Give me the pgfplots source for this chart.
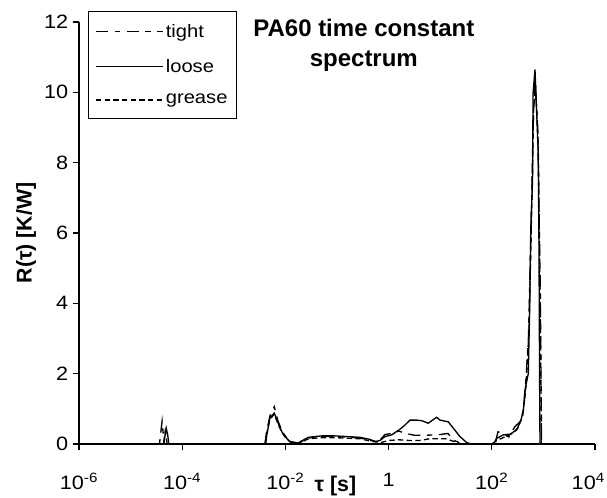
\documentclass[border=0pt]{standalone}
\usepackage{fontspec}
\setmainfont{Liberation Sans}
\newfontfamily\tickfont[FakeStretch=1.12]{Liberation Sans}
\usepackage{pgfplots}
\pgfplotsset{compat=1.18}

% x values are log10(tau/s); ticks relabelled as powers of ten
\pgfplotstableread{
x y
-6 0
-4.44 0
-4.39 0.65
-4.35 0
-2.40 0
-2.37 0.30
-2.30 0.80
-2.215 1.06
-2.15 0.68
-2.07 0.38
-1.975 0.17
-1.90 0.06
-1.75 0.02
-1.68 0.07
-1.55 0.17
-1.30 0.21
-1.04 0.22
-0.55 0.17
-0.35 0.10
-0.20 0.06
-0.07 0.27
0.06 0.30
0.20 0.37
0.32 0.30
0.50 0.25
0.75 0.25
1.00 0.27
1.15 0.30
1.25 0.12
1.38 0.03
1.45 0
2.03 0
2.08 0.10
2.12 0.35
2.20 0.30
2.33 0.20
2.45 0.50
2.55 0.63
2.62 1.00
2.66 1.80
2.71 3.00
2.76 6.00
2.80 9.00
2.835 10.40
2.89 9.00
2.94 4.50
2.965 0
4 0
}\tight

\pgfplotstableread{
x y
-6 0
-4.36 0
-4.31 0.45
-4.28 0.25
-4.26 0
-2.40 0
-2.38 0.02
-2.36 0.26
-2.30 0.74
-2.215 0.88
-2.15 0.63
-2.07 0.35
-1.975 0.16
-1.91 0.07
-1.75 0.03
-1.684 0.09
-1.556 0.19
-1.30 0.23
-1.04 0.23
-0.80 0.21
-0.554 0.19
-0.36 0.13
-0.26 0.07
-0.167 0.10
-0.07 0.21
0.06 0.26
0.221 0.42
0.318 0.54
0.415 0.68
0.543 0.68
0.65 0.66
0.769 0.59
0.833 0.66
0.93 0.76
0.996 0.68
1.157 0.63
1.254 0.45
1.384 0.21
1.514 0.04
1.60 0
2.03 0
2.095 0.16
2.223 0.26
2.353 0.28
2.483 0.40
2.566 0.68
2.611 0.97
2.643 1.54
2.707 2.00
2.735 3.90
2.755 6.10
2.79 7.50
2.80 9.97
2.837 10.65
2.90 8.27
2.915 5.50
2.925 2.20
2.934 0
4 0
}\loose

\pgfplotstableread{
x y
-6 0
-4.36 0
-4.33 0.35
-4.29 0
-2.40 0
-2.37 0.25
-2.30 0.70
-2.215 0.85
-2.15 0.60
-2.07 0.33
-1.975 0.14
-1.90 0.05
-1.75 0.02
-1.68 0.06
-1.55 0.15
-1.30 0.18
-1.04 0.18
-0.55 0.15
-0.35 0.08
-0.15 0.04
0.00 0.10
0.20 0.12
0.40 0.10
0.60 0.10
0.80 0.15
1.10 0.15
1.25 0.08
1.35 0.02
1.45 0
2.00 0
2.10 0.10
2.25 0.20
2.40 0.30
2.50 0.45
2.60 0.80
2.66 1.60
2.72 3.20
2.77 6.50
2.81 9.50
2.845 10.30
2.90 8.50
2.945 3.00
2.96 0
4 0
}\grease

\begin{document}
\begin{tikzpicture}
\begin{axis}[
  at={(0,0)}, anchor=south west,
  scale only axis, width=387pt, height=316.5pt,
  xmin=-6, xmax=4, ymin=0, ymax=12,
  axis x line=bottom, axis y line=left,
  axis line style={-, line width=0.9pt},
  tick align=outside, major tick length=4.5pt,
  tick style={black, line width=0.9pt},
  xtick={-6,-4,-2,0,2,4},
  xticklabels={10\textsuperscript{-6},10\textsuperscript{-4},10\textsuperscript{-2},1,10\textsuperscript{2},\makebox[0pt][c]{\hspace{-10pt}10\textsuperscript{4}}},
  ytick={0,2,...,12},
  /pgf/number format/assume math mode=true,
  ticklabel style={font=\tickfont\fontsize{14.5}{17}\selectfont},
  xticklabel style={yshift=-14pt},
  xlabel={τ [s]}, ylabel={R(τ) [K/W]},
  label style={font=\bfseries\fontsize{16}{19}\selectfont},
  xlabel style={at={(axis description cs:0.497,-0.0995)}, anchor=center},
  ylabel style={at={(axis description cs:-0.1027,0.5)}, anchor=center},
  legend style={at={(0.0174,1.0261)}, anchor=north west, draw=black,
    line width=0.8pt, fill=white, font=\tickfont\fontsize{13.5}{16}\selectfont,
    inner xsep=5pt, inner ysep=7.5pt, row sep=11pt, cells={anchor=west}},
  legend image code/.code={\draw[#1] (0pt,0pt) -- (50pt,0pt);},
  clip=false,
]
\addplot[black, line width=1pt, dash pattern=on 9pt off 5pt on 4pt off 5pt] table[x=x,y=y] {\tight};
\addlegendentry{tight}
\addplot[black, line width=1pt] table[x=x,y=y] {\loose};
\addlegendentry{loose}
\addplot[black, line width=1pt, dash pattern=on 4pt off 2.5pt] table[x=x,y=y] {\grease};
\addlegendentry{grease\hspace{5pt}}
\node[font=\bfseries\fontsize{18}{23}\selectfont, anchor=base] at (axis description cs:0.552,0.9645) {PA60 time constant};
\node[font=\bfseries\fontsize{18}{23}\selectfont, anchor=base] at (axis description cs:0.552,0.8934) {spectrum};
\end{axis}
\pgfresetboundingbox
\path[use as bounding box] (-59.25pt,-39.75pt) rectangle (396pt,333pt);
\end{tikzpicture}
\end{document}
